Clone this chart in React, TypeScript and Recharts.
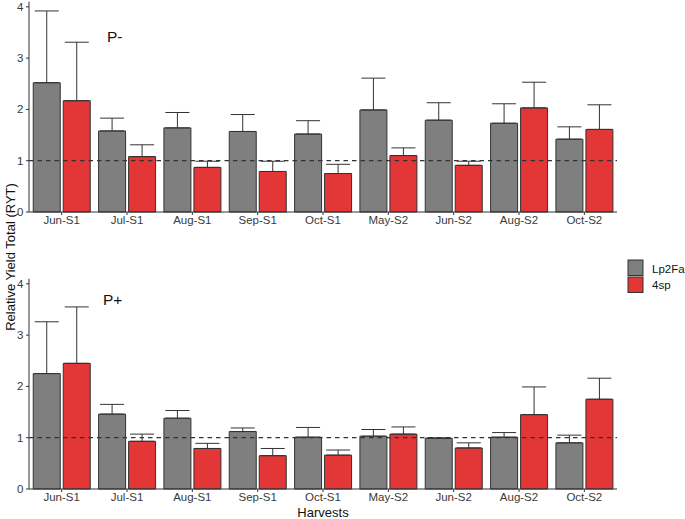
import React from "react";
import { Bar, BarChart, ErrorBar, ReferenceLine, XAxis, YAxis } from "recharts";

// RYT by harvest, two P panels; error bars upward only (mean + SE)
const HARVESTS = ["Jun-S1", "Jul-S1", "Aug-S1", "Sep-S1", "Oct-S1", "May-S2", "Jun-S2", "Aug-S2", "Oct-S2"];

// P-
const LP2FA_MINUS = [2.52, 1.58, 1.64, 1.57, 1.52, 1.99, 1.79, 1.73, 1.42];
const LP2FA_MINUS_SE = [1.4, 0.25, 0.3, 0.33, 0.26, 0.62, 0.34, 0.38, 0.24];
const SP4_MINUS = [2.17, 1.08, 0.87, 0.79, 0.75, 1.1, 0.91, 2.03, 1.61];
const SP4_MINUS_SE = [1.14, 0.23, 0.12, 0.2, 0.18, 0.15, 0.08, 0.5, 0.48];

// P+
const LP2FA_PLUS = [2.25, 1.46, 1.38, 1.12, 1.01, 1.03, 0.99, 1.01, 0.9];
const LP2FA_PLUS_SE = [1.01, 0.19, 0.15, 0.07, 0.19, 0.13, 0.005, 0.09, 0.15];
const SP4_PLUS = [2.45, 0.93, 0.79, 0.65, 0.66, 1.07, 0.8, 1.45, 1.75];
const SP4_PLUS_SE = [1.1, 0.14, 0.1, 0.14, 0.1, 0.14, 0.1, 0.54, 0.41];

const Y_TICKS = [0, 1, 2, 3, 4];

const GRAY = "#7f7f7f";
const RED = "#e33636";
const INK = "#333333";
const TEXT = "#3a3a3a";
const FONT = "'Liberation Sans', Arial, sans-serif";

function rows(g: number[], gSe: number[], r: number[], rSe: number[]) {
  return HARVESTS.map((h, i) => ({
    harvest: h,
    lp2fa: g[i],
    lp2faErr: [0, gSe[i]],
    sp4: r[i],
    sp4Err: [0, rSe[i]],
  }));
}

const minusData = rows(LP2FA_MINUS, LP2FA_MINUS_SE, SP4_MINUS, SP4_MINUS_SE);
const plusData = rows(LP2FA_PLUS, LP2FA_PLUS_SE, SP4_PLUS, SP4_PLUS_SE);

function Panel({ data }: { data: any[] }) {
  return (
    <BarChart
      width={685}
      height={240}
      data={data}
      margin={{ top: 1.7, right: 68, bottom: 0, left: 0 }}
      barCategoryGap="6.5%"
      barGap={3}
    >
      <XAxis
        dataKey="harvest"
        height={28}
        stroke={INK}
        tickSize={3}
        tickMargin={1}
        tick={{ fontSize: 11.5, fill: TEXT, fontFamily: FONT }}
        interval={0}
      />
      <YAxis
        width={29}
        domain={[0, 4.1]}
        ticks={Y_TICKS}
        stroke={INK}
        tickSize={3}
        tickMargin={2.5}
        tick={{ fontSize: 11.5, fill: TEXT, fontFamily: FONT }}
      />
      <Bar dataKey="lp2fa" fill={GRAY} stroke={INK} strokeWidth={1} isAnimationActive={false}>
        <ErrorBar dataKey="lp2faErr" width={12} stroke={INK} strokeWidth={1} direction="y" isAnimationActive={false} />
      </Bar>
      <Bar dataKey="sp4" fill={RED} stroke={INK} strokeWidth={1} isAnimationActive={false}>
        <ErrorBar dataKey="sp4Err" width={12} stroke={INK} strokeWidth={1} direction="y" isAnimationActive={false} />
      </Bar>
      <ReferenceLine y={1} stroke={INK} strokeWidth={1.2} strokeDasharray="4.5 4" />
    </BarChart>
  );
}

export default function App() {
  return (
    <div style={{ position: "absolute", left: 0, top: 0, width: 685, height: 519, background: "#fff", fontFamily: FONT }}>
      <div style={{ position: "absolute", left: 0, top: 0 }}>
        <Panel data={minusData} />
      </div>
      <div style={{ position: "absolute", left: 0, top: 277 }}>
        <Panel data={plusData} />
      </div>
      <svg width={685} height={519} style={{ position: "absolute", left: 0, top: 0, pointerEvents: "none" }}>
        <g fontFamily={FONT}>
          <text x={107} y={42} fontSize={15.5} fill="#111">P-</text>
          <text x={103} y={305} fontSize={15.5} fill="#111">P+</text>
          <text x={0} y={0} fontSize={13} fill="#111" textAnchor="middle" transform="translate(14.5,257) rotate(-90)">
            Relative Yield Total (RYT)
          </text>
          <text x={323} y={517} fontSize={13} fill="#111" textAnchor="middle">Harvests</text>
          <rect x={628} y={260} width={15} height={15.5} fill={GRAY} stroke={INK} strokeWidth={1} />
          <rect x={628} y={277} width={15} height={15.5} fill={RED} stroke={INK} strokeWidth={1} />
          <text x={652} y={272.5} fontSize={11.5} fill="#111">Lp2Fa</text>
          <text x={652} y={289.3} fontSize={11.5} fill="#111">4sp</text>
        </g>
      </svg>
    </div>
  );
}
